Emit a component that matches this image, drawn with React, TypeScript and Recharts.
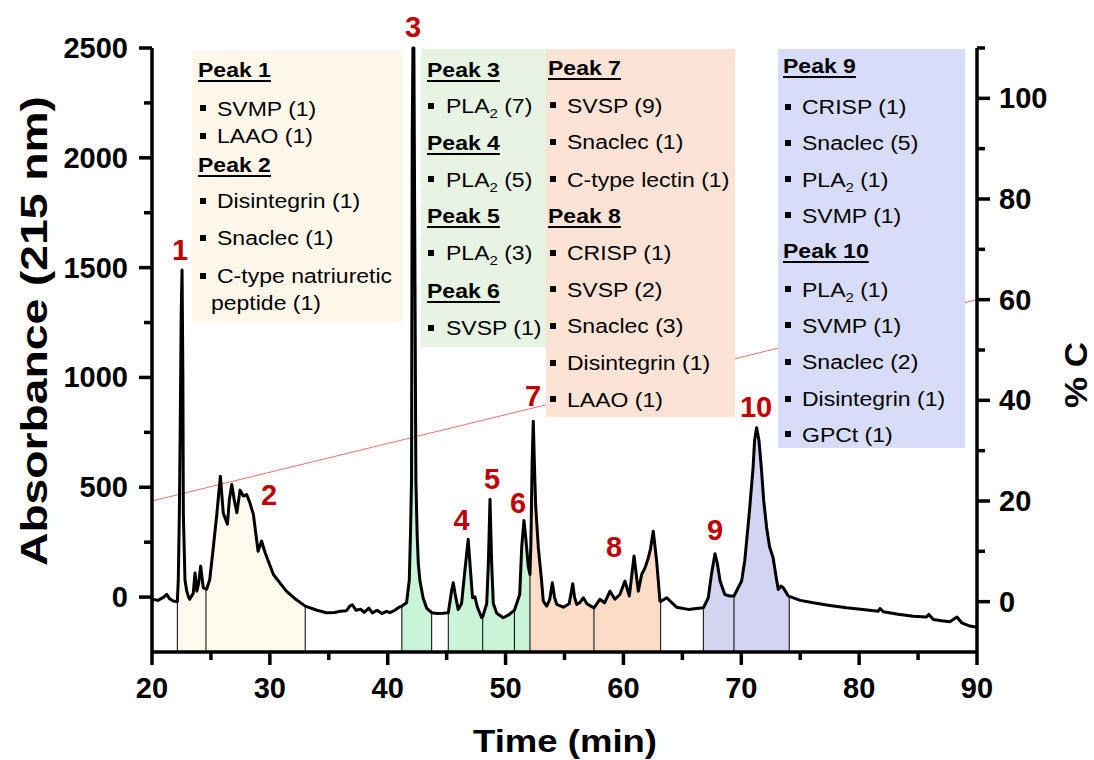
import React from "react";
import { ComposedChart, Line, Area, XAxis, YAxis, ReferenceLine, ReferenceDot } from "recharts";

const FONT = "'Liberation Sans', Arial, Helvetica, sans-serif";

// chromatogram trace: [time (min), absorbance at 215 nm]
const trace: [number, number][] = [
  [20.0, -10], [20.5, -15], [21.0, 0], [21.25, 12], [21.5, -8], [21.8, -18], [22.15, -21],
  [22.23, 77], [22.32, 381], [22.4, 800], [22.48, 1300], [22.55, 1489], [22.62, 1000], [22.66, 381],
  [22.8, 77], [22.95, 27], [23.1, 1], [23.2, -10], [23.5, 17], [23.65, 110], [23.8, 27], [23.95, 60],
  [24.13, 141], [24.35, 42], [24.58, 38], [24.64, 36], [24.9, 80], [25.2, 225], [25.5, 378], [25.8, 550],
  [26.05, 381], [26.4, 332], [26.56, 442], [26.77, 513], [26.98, 442], [27.2, 384], [27.47, 487],
  [27.75, 460], [28.03, 467], [28.3, 430], [28.6, 377], [29.0, 209], [29.3, 255], [29.6, 202],
  [30.3, 103], [31.4, 27], [32.2, -10], [33.0, -41], [34.0, -60], [34.8, -71], [35.5, -70], [36.0, -64],
  [36.5, -62], [36.8, -40], [37.0, -35], [37.3, -60], [37.7, -55], [38.0, -70], [38.4, -50], [38.7, -72],
  [39.1, -60], [39.5, -75], [39.9, -65], [40.2, -71], [40.6, -60], [41.0, -45], [41.2, -41], [41.6, -26],
  [41.83, 77], [41.94, 305], [42.02, 533], [42.08, 2100], [42.14, 2500], [42.22, 2500], [42.3, 1600],
  [42.39, 533], [42.5, 280], [42.6, 149], [42.74, 73], [43.0, -3], [43.3, -50], [43.73, -71], [44.2, -75],
  [44.7, -74], [45.14, -71], [45.43, 32], [45.56, 65], [45.71, 17], [45.98, -56], [46.27, -29], [46.55, 123],
  [46.83, 263], [47.04, 108], [47.2, -3], [47.4, 1], [47.6, -44], [47.97, -94], [48.06, -90], [48.4, -29],
  [48.54, 153], [48.68, 445], [48.82, 153], [48.96, -29], [49.25, -74], [49.8, -94], [50.3, -80],
  [50.65, -64], [50.75, -60], [51.0, -20], [51.2, 12], [51.37, 229], [51.56, 349], [51.73, 259],
  [51.93, 138], [52.07, 103], [52.15, 250], [52.25, 600], [52.35, 801], [52.45, 600], [52.55, 420],
  [52.63, 350], [52.78, 225], [53.05, 77], [53.2, -18], [53.49, -41], [53.75, -10], [53.97, 65],
  [54.15, 0], [54.34, -33], [54.9, -46], [55.4, -30], [55.7, 61], [55.85, 0], [56.04, -33], [56.3, -25],
  [56.6, -3], [56.9, -30], [57.2, -40], [57.5, -49], [58.0, -10], [58.4, -26], [58.86, 27], [59.28, -10],
  [59.7, 12], [60.13, 73], [60.5, 5], [60.9, 187], [61.26, 27], [61.55, 103], [61.83, 133], [62.1, 176],
  [62.3, 220], [62.53, 300], [62.82, 164], [63.1, -18], [63.16, -20], [63.67, -3], [64.5, -46],
  [65.5, -56], [66.2, -52], [66.78, -49], [67.2, -3], [67.48, 108], [67.77, 197], [67.97, 153],
  [68.2, 73], [68.6, 12], [69.0, 5], [69.38, 5], [70.03, 73], [70.3, 168], [70.7, 396], [71.0, 589],
  [71.13, 714], [71.3, 771], [71.5, 714], [71.7, 589], [71.9, 441], [72.15, 316], [72.4, 229],
  [72.7, 179], [73.0, 77], [73.14, 35], [73.35, 50], [73.57, 42], [73.99, 5], [74.07, 3], [75.0, -15],
  [76.1, -26], [77.5, -38], [78.94, -49], [80.3, -57], [81.63, -64], [81.77, -52], [82.05, -67],
  [83.3, -78], [84.6, -87], [85.7, -91], [85.9, -79], [86.3, -102], [87.0, -108], [87.7, -112],
  [88.3, -91], [88.7, -117], [89.4, -132], [90.0, -137],
];

// acetonitrile gradient (% C)
const gradientTimes = [20, 90];
const gradientPct = [20, 60];

// collected fractions (shaded under the trace)
const fractionRanges: [number, number][] = [
  [22.15, 33.0], [41.2, 43.73], [45.14, 52.07], [52.07, 63.16], [66.78, 74.07],
];
const fractionFills = ["#FFF8EC", "#C9F4D8", "#C9F4D8", "#FCDCC6", "#D2D4F1"];
const fractionCuts = [22.15, 24.58, 33.0, 41.2, 43.73, 45.14, 48.06, 50.75, 52.07, 57.5, 63.16, 66.78, 69.38, 74.07];

// peak numbers and where they sit
const peakNames = ["1", "2", "3", "4", "5", "6", "7", "8", "9", "10"];
const peakLabelTimes = [22.38, 29.93, 42.15, 46.26, 48.85, 51.05, 52.33, 59.2, 67.77, 71.25];
const peakLabelHeights = [1534, 419, 2550, 305, 492, 382, 870, 182, 260, 820];

const timeTicks = [20, 25, 30, 35, 40, 45, 50, 55, 60, 65, 70, 75, 80, 85, 90];
const absTicks = [0, 250, 500, 750, 1000, 1250, 1500, 1750, 2000, 2250, 2500];
const pctTicks = [0, 10, 20, 30, 40, 50, 60, 70, 80, 90, 100, 110];

type BoxLine = { kind: "head" | "item" | "cont"; text: string };

const box1Text: BoxLine[] = [
  { kind: "head", text: "Peak 1" },
  { kind: "item", text: "SVMP (1)" },
  { kind: "item", text: "LAAO (1)" },
  { kind: "head", text: "Peak 2" },
  { kind: "item", text: "Disintegrin (1)" },
  { kind: "item", text: "Snaclec (1)" },
  { kind: "item", text: "C-type natriuretic" },
  { kind: "cont", text: "peptide (1)" },
];
const box2Text: BoxLine[] = [
  { kind: "head", text: "Peak 3" },
  { kind: "item", text: "PLA_2 (7)" },
  { kind: "head", text: "Peak 4" },
  { kind: "item", text: "PLA_2 (5)" },
  { kind: "head", text: "Peak 5" },
  { kind: "item", text: "PLA_2 (3)" },
  { kind: "head", text: "Peak 6" },
  { kind: "item", text: "SVSP (1)" },
];
const box3Text: BoxLine[] = [
  { kind: "head", text: "Peak 7" },
  { kind: "item", text: "SVSP (9)" },
  { kind: "item", text: "Snaclec (1)" },
  { kind: "item", text: "C-type lectin (1)" },
  { kind: "head", text: "Peak 8" },
  { kind: "item", text: "CRISP (1)" },
  { kind: "item", text: "SVSP (2)" },
  { kind: "item", text: "Snaclec (3)" },
  { kind: "item", text: "Disintegrin (1)" },
  { kind: "item", text: "LAAO (1)" },
];
const box4Text: BoxLine[] = [
  { kind: "head", text: "Peak 9" },
  { kind: "item", text: "CRISP (1)" },
  { kind: "item", text: "Snaclec (5)" },
  { kind: "item", text: "PLA_2 (1)" },
  { kind: "item", text: "SVMP (1)" },
  { kind: "head", text: "Peak 10" },
  { kind: "item", text: "PLA_2 (1)" },
  { kind: "item", text: "SVMP (1)" },
  { kind: "item", text: "Snaclec (2)" },
  { kind: "item", text: "Disintegrin (1)" },
  { kind: "item", text: "GPCt (1)" },
];

// box placement on the page
const boxes = [
  { lines: box1Text, left: 192, top: 50, width: 211, height: 272, bg: "#FEF8EA", headX: 198, bulletX: 200, textX: 217, contX: 210.5,
    baselines: [77, 115.5, 143, 172, 208, 245, 283, 309.5] },
  { lines: box2Text, left: 421, top: 49, width: 125, height: 298, bg: "#E7F3E3", headX: 426.5, bulletX: 427.5, textX: 445.5, contX: 445.5,
    baselines: [76.7, 113.3, 150, 186.7, 223.3, 260, 298.3, 335] },
  { lines: box3Text, left: 546, top: 49, width: 189, height: 368, bg: "#FBE4D5", headX: 548.3, bulletX: 549.5, textX: 566.7, contX: 566.7,
    baselines: [75, 112.7, 149.3, 186.7, 222.7, 260, 296.7, 333.3, 370, 406.7] },
  { lines: box4Text, left: 777.5, top: 49, width: 187.5, height: 399, bg: "#D7DDF8", headX: 783.3, bulletX: 784.5, textX: 802.3, contX: 802.3,
    baselines: [72.7, 114, 150, 186.7, 222.7, 258.3, 296.7, 332.7, 369.3, 406, 441.7] },
];

const traceData = trace.map(([t, a]) => ({ t, a }));
const gradientData = gradientTimes.map((t, i) => ({ t, pct: gradientPct[i] }));
const fractionData = fractionRanges.map(([from, to]) => traceData.filter((d) => d.t >= from - 1e-6 && d.t <= to + 1e-6));
const heightAt = (t: number) => {
  const hit = traceData.find((d) => Math.abs(d.t - t) < 1e-6);
  return hit ? hit.a : 0;
};

const TimeTick = (props: any) => {
  const { x, y, payload } = props;
  const major = payload.value % 10 === 0;
  return (
    <g>
      <line x1={x} y1={y} x2={x} y2={y + (major ? 13 : 8)} stroke="#000" strokeWidth={3.5} />
      {major && (
        <text x={x} y={y + 46} textAnchor="middle" fontSize={29} fontWeight="bold" fill="#000" fontFamily={FONT}>
          {payload.value}
        </text>
      )}
    </g>
  );
};

const AbsTick = (props: any) => {
  const { x, y, payload } = props;
  const major = payload.value % 500 === 0;
  return (
    <g>
      <line x1={x} y1={y} x2={x - (major ? 13 : 8)} y2={y} stroke="#000" strokeWidth={3.5} />
      {major && (
        <text x={x - 24} y={y + 10} textAnchor="end" fontSize={29} fontWeight="bold" fill="#000" fontFamily={FONT}>
          {payload.value}
        </text>
      )}
    </g>
  );
};

const PctTick = (props: any) => {
  const { x, y, payload } = props;
  const major = payload.value % 20 === 0;
  return (
    <g>
      <line x1={x} y1={y} x2={x + (major ? 13 : 8)} y2={y} stroke="#000" strokeWidth={3.5} />
      {major && (
        <text x={x + 22} y={y + 10} textAnchor="start" fontSize={29} fontWeight="bold" fill="#000" fontFamily={FONT}>
          {payload.value}
        </text>
      )}
    </g>
  );
};

function renderText(text: string) {
  const parts = text.split("_2");
  if (parts.length === 1) return text;
  return (
    <>
      {parts[0]}
      <span style={{ fontSize: 13, position: "relative", top: 5 }}>2</span>
      {parts[1]}
    </>
  );
}

const lineStyle: React.CSSProperties = {
  position: "absolute",
  whiteSpace: "nowrap",
  fontSize: 20,
  lineHeight: "20px",
  color: "#000",
  transform: "scaleX(1.15)",
  transformOrigin: "left center",
};

function InfoBoxes() {
  return (
    <>
      {boxes.map((b, bi) => (
        <React.Fragment key={bi}>
          <div style={{ position: "absolute", left: b.left, top: b.top, width: b.width, height: b.height, background: b.bg }} />
          {b.lines.map((ln, i) => {
            const base = b.baselines[i];
            if (ln.kind === "head") {
              return (
                <div key={i} style={{ ...lineStyle, left: b.headX, top: base - 17, fontWeight: 700, textDecoration: "underline", textDecorationThickness: 2, textUnderlineOffset: 3 }}>
                  {ln.text}
                </div>
              );
            }
            if (ln.kind === "cont") {
              return (
                <div key={i} style={{ ...lineStyle, left: b.contX, top: base - 17 }}>
                  {renderText(ln.text)}
                </div>
              );
            }
            return (
              <React.Fragment key={i}>
                <div style={{ position: "absolute", left: b.bulletX, top: base - 10.5, width: 6, height: 6, background: "#000" }} />
                <div style={{ ...lineStyle, left: b.textX, top: base - 17 }}>{renderText(ln.text)}</div>
              </React.Fragment>
            );
          })}
        </React.Fragment>
      ))}
    </>
  );
}

export default function App() {
  return (
    <div style={{ position: "absolute", left: 0, top: 0, width: 1094, height: 760, background: "#fff", fontFamily: FONT }}>
      <ComposedChart width={1094} height={760} data={traceData} margin={{ top: 48, right: 0, bottom: 0, left: 0 }}>
        <XAxis
          dataKey="t"
          type="number"
          domain={[20, 90]}
          ticks={timeTicks}
          interval={0}
          height={108}
          tickLine={false}
          tickSize={0}
          tickMargin={0}
          axisLine={{ stroke: "#000", strokeWidth: 3.5 }}
          tick={TimeTick}
          label={{
            content: () => (
              <text x={565} y={752} textAnchor="middle" fontSize={32} fontWeight="bold" fill="#000" fontFamily={FONT} textLength={184} lengthAdjust="spacingAndGlyphs">
                Time (min)
              </text>
            ),
          }}
        />
        <YAxis
          yAxisId="abs"
          type="number"
          domain={[-250, 2500]}
          ticks={absTicks}
          interval={0}
          width={152}
          tickLine={false}
          tickSize={0}
          tickMargin={0}
          axisLine={{ stroke: "#000", strokeWidth: 3.5 }}
          tick={AbsTick}
          label={{
            content: () => (
              <text x={47} y={331} transform="rotate(-90 47 331)" textAnchor="middle" fontSize={36} fontWeight="bold" fill="#000" fontFamily={FONT} textLength={470} lengthAdjust="spacingAndGlyphs">
                Absorbance (215 nm)
              </text>
            ),
          }}
        />
        <YAxis
          yAxisId="pct"
          orientation="right"
          type="number"
          domain={[-10, 110]}
          ticks={pctTicks}
          interval={0}
          width={117}
          tickLine={false}
          tickSize={0}
          tickMargin={0}
          axisLine={{ stroke: "#000", strokeWidth: 3.5 }}
          tick={PctTick}
          label={{
            content: () => (
              <text x={1087} y={375} transform="rotate(-90 1087 375)" textAnchor="middle" fontSize={31} fontWeight="bold" fill="#000" fontFamily={FONT} textLength={66} lengthAdjust="spacingAndGlyphs">
                % C
              </text>
            ),
          }}
        />
        <Line yAxisId="pct" data={gradientData} dataKey="pct" stroke="#F07070" strokeWidth={1} dot={false} activeDot={false} isAnimationActive={false} />
        {fractionData.map((d, i) => (
          <Area
            key={`f${i}`}
            yAxisId="abs"
            data={d}
            dataKey="a"
            type="linear"
            baseValue={-250}
            stroke="none"
            fill={fractionFills[i]}
            fillOpacity={1}
            activeDot={false}
            isAnimationActive={false}
          />
        ))}
        {fractionCuts.map((c) => (
          <ReferenceLine
            key={`c${c}`}
            yAxisId="abs"
            segment={[{ x: c, y: -250 }, { x: c, y: heightAt(c) }]}
            stroke="#000"
            strokeWidth={1}
          />
        ))}
        <Line yAxisId="abs" dataKey="a" type="linear" stroke="#000" strokeWidth={3} strokeLinejoin="round" dot={false} activeDot={false} isAnimationActive={false} />
        {peakNames.map((name, i) => (
          <ReferenceDot
            key={`p${name}`}
            yAxisId="abs"
            x={peakLabelTimes[i]}
            y={peakLabelHeights[i]}
            r={0}
            ifOverflow="visible"
            shape={(p: any) => (
              <text x={p.cx} y={p.cy} textAnchor="middle" fontSize={29} fontWeight="bold" fill="#C00000" fontFamily={FONT}>
                {name}
              </text>
            )}
          />
        ))}
      </ComposedChart>
      <InfoBoxes />
    </div>
  );
}
